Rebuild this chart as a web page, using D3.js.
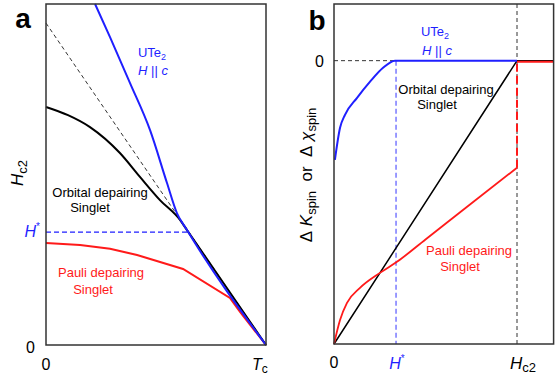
<!DOCTYPE html>
<head>
    <title>Hc2 and spin susceptibility</title>
    <meta charset="utf-8">
    <style>
        body { margin: 0; background: #fff; }
        text { font-family: "Liberation Sans", Arial, sans-serif; white-space: pre; }
    </style>
</head>
<body>
<div id="chart"></div>
<script src="https://d3js.org/d3.v7.min.js"></script>
<script>

// Panel a: T/Tc against H (arbitrary units)
var blueA = [[0.223, 10], [0.291, 9.03], [0.382, 7.68], [0.473, 6.30], [0.55, 4.75], [0.595, 3.87], [0.641, 3.37], [1, 0]];
var blackA = [[0, 6.98], [0.1, 6.74], [0.2, 6.39], [0.336, 5.63], [0.427, 4.93], [0.518, 4.25], [0.609, 3.67], [0.641, 3.37], [1, 0]];
var redA = [[0, 2.99], [0.155, 2.93], [0.291, 2.82], [0.414, 2.64], [0.623, 2.23], [0.836, 1.38], [0.882, 0.97], [1, 0]];
var dashA = [[0, 9.44], [1, 0]];
var hStarA = 3.31;

// Panel b: H/Hc2 against Delta K
var blueB = [[0.005, -0.35], [0.033, -0.237], [0.06, -0.191], [0.126, -0.131], [0.197, -0.074], [0.268, -0.025], [0.333, 0], [1, 0]];
var blackB = [[0, -1], [1, 0], [1.2, 0]];
var redB = [[0, -1], [0.033, -0.915], [0.071, -0.855], [0.142, -0.802], [0.251, -0.749], [0.344, -0.71], [0.5, -0.631], [0.75, -0.504], [1, -0.378]];
var redBAbove = [[1, -0.004], [1.2, -0.004]];
var hStarB = 0.339;

var blue = "#1f1fff", red = "#ff1a1a";

var svg = d3.select("#chart").append("svg")
    .attr("width", 556)
    .attr("height", 380);

// ---- panel a ----
var xA = d3.scaleLinear().domain([0, 1]).range([46, 266]);
var yA = d3.scaleLinear().domain([0, 10]).range([345, 4]);

var lineA = d3.line()
    .x(function(d) { return xA(d[0]); })
    .y(function(d) { return yA(d[1]); });

var gA = svg.append("g");

gA.append("path").attr("d", lineA.curve(d3.curveLinear)(dashA))
    .attr("fill", "none").attr("stroke", "#333").attr("stroke-width", 1)
    .attr("stroke-dasharray", "4,3");

gA.append("line")
    .attr("x1", xA(0)).attr("x2", xA(0.645))
    .attr("y1", yA(hStarA)).attr("y2", yA(hStarA))
    .attr("stroke", blue).attr("stroke-width", 1.2).attr("stroke-dasharray", "5,3");

gA.append("path").attr("d", lineA.curve(d3.curveLinear)(redA))
    .attr("fill", "none").attr("stroke", red).attr("stroke-width", 2);
gA.append("path").attr("d", lineA.curve(d3.curveMonotoneX)(blackA))
    .attr("fill", "none").attr("stroke", "#000").attr("stroke-width", 2);
gA.append("path").attr("d", lineA.curve(d3.curveMonotoneX)(blueA))
    .attr("fill", "none").attr("stroke", blue).attr("stroke-width", 2);

// frame
gA.append("rect")
    .attr("x", xA(0)).attr("y", yA(10))
    .attr("width", xA(1) - xA(0)).attr("height", yA(0) - yA(10))
    .attr("fill", "none").attr("stroke", "#333").attr("stroke-width", 1.5);

// ---- panel b ----
var xB = d3.scaleLinear().domain([0, 1.2]).range([334, 553.6]);
var yB = d3.scaleLinear().domain([-1, 0.2]).range([344, 4]);

var lineB = d3.line()
    .x(function(d) { return xB(d[0]); })
    .y(function(d) { return yB(d[1]); });

var gB = svg.append("g");

// reference lines
gB.append("line")
    .attr("x1", xB(0)).attr("x2", xB(hStarB))
    .attr("y1", yB(0)).attr("y2", yB(0))
    .attr("stroke", "#333").attr("stroke-width", 1).attr("stroke-dasharray", "4,3");
gB.append("line")
    .attr("x1", xB(1)).attr("x2", xB(1))
    .attr("y1", yB(0.2)).attr("y2", yB(-1))
    .attr("stroke", "#333").attr("stroke-width", 1).attr("stroke-dasharray", "4,3");
gB.append("line")
    .attr("x1", xB(hStarB)).attr("x2", xB(hStarB))
    .attr("y1", yB(0)).attr("y2", yB(-1))
    .attr("stroke", blue).attr("stroke-opacity", 0.6).attr("stroke-width", 1.5)
    .attr("stroke-dasharray", "5,3");

gB.append("path").attr("d", lineB.curve(d3.curveLinear)(blackB))
    .attr("fill", "none").attr("stroke", "#000").attr("stroke-width", 1.5);
gB.append("path").attr("d", lineB.curve(d3.curveMonotoneX)(redB))
    .attr("fill", "none").attr("stroke", red).attr("stroke-width", 1.8);
gB.append("line")
    .attr("x1", xB(1)).attr("x2", xB(1))
    .attr("y1", yB(redB[redB.length - 1][1])).attr("y2", yB(0))
    .attr("stroke", red).attr("stroke-width", 2).attr("stroke-dasharray", "8,4");
gB.append("path").attr("d", lineB.curve(d3.curveLinear)(redBAbove))
    .attr("fill", "none").attr("stroke", red).attr("stroke-width", 2);
gB.append("path").attr("d", lineB.curve(d3.curveMonotoneX)(blueB))
    .attr("fill", "none").attr("stroke", blue).attr("stroke-width", 2);

gB.append("rect")
    .attr("x", xB(0)).attr("y", yB(0.2))
    .attr("width", xB(1.2) - xB(0)).attr("height", yB(-1) - yB(0.2))
    .attr("fill", "none").attr("stroke", "#333").attr("stroke-width", 1.5);

// ---- text ----
function label(x, y, s, opts) {
    opts = opts || {};
    return svg.append("text")
        .attr("x", x).attr("y", y)
        .attr("text-anchor", opts.anchor || "middle")
        .attr("font-size", opts.size || 13)
        .attr("font-weight", opts.weight || "normal")
        .attr("fill", opts.color || "#000")
        .text(s);
}

label(23, 28, "a", {size: 28, weight: "bold"});
label(317, 30, "b", {size: 28, weight: "bold"});

// panel a ticks
label(35, 353, "0", {size: 16, anchor: "end"});
label(xA(0), 370, "0", {size: 16});
var tc = label(252, 370, "", {size: 16, anchor: "start"});
tc.append("tspan").attr("font-style", "italic").text("T");
tc.append("tspan").attr("dy", 3).attr("font-size", 12).text("c");

var hs = label(40, 237, "", {size: 16, anchor: "end", color: blue});
hs.append("tspan").attr("font-style", "italic").text("H");
hs.append("tspan").attr("dy", -7).attr("font-size", 10).text("*");

var hc = svg.append("text")
    .attr("transform", "translate(23,173) rotate(-90)")
    .attr("text-anchor", "middle").attr("font-size", 17);
hc.append("tspan").attr("font-style", "italic").text("H");
hc.append("tspan").attr("dy", 4).attr("font-size", 13).text("c2");

// panel a annotations
var ute = label(152, 57, "UTe", {color: blue});
ute.append("tspan").attr("dy", 3).attr("font-size", 9).text("2");
var hc1 = label(153, 75, "", {color: blue});
hc1.append("tspan").attr("font-style", "italic").text("H");
hc1.append("tspan").text(" || ");
hc1.append("tspan").attr("font-style", "italic").text("c");

label(100, 197, "Orbital depairing");
label(90, 212, "Singlet");
label(101, 277, "Pauli depairing", {color: red});
label(93, 294, "Singlet", {color: red});

// panel b ticks
label(324, 67, "0", {size: 16, anchor: "end"});
label(xB(0), 368, "0", {size: 16});
var hs2 = label(xB(hStarB) + 1, 369, "", {size: 16, color: blue});
hs2.append("tspan").attr("font-style", "italic").text("H");
hs2.append("tspan").attr("dy", -7).attr("font-size", 10).text("*");
var hcb = label(xB(1) + 6, 369, "", {size: 17});
hcb.append("tspan").attr("font-style", "italic").text("H");
hcb.append("tspan").attr("dy", 3).attr("font-size", 13).text("c2");

var yl = svg.append("text")
    .attr("transform", "translate(312,175) rotate(-90)")
    .attr("text-anchor", "middle").attr("font-size", 17);
yl.append("tspan").text("\u0394\u00a0");
yl.append("tspan").attr("font-style", "italic").text("K");
yl.append("tspan").attr("dy", 4).attr("font-size", 13).text("spin");
yl.append("tspan").attr("dy", -4).text("\u00a0\u00a0or\u00a0\u00a0\u0394\u00a0");
yl.append("tspan").attr("font-style", "italic").text("\u03c7");
yl.append("tspan").attr("dy", 4).attr("font-size", 13).text("spin");

// panel b annotations
var ute2 = label(435, 36, "UTe", {color: blue});
ute2.append("tspan").attr("dy", 3).attr("font-size", 9).text("2");
var hc2 = label(437, 55, "", {color: blue});
hc2.append("tspan").attr("font-style", "italic").text("H");
hc2.append("tspan").text(" || ");
hc2.append("tspan").attr("font-style", "italic").text("c");

label(446, 94, "Orbital depairing");
label(437, 109, "Singlet");
label(469, 255, "Pauli depairing", {color: red});
label(460, 271, "Singlet", {color: red});

</script>
</body>
</html>
